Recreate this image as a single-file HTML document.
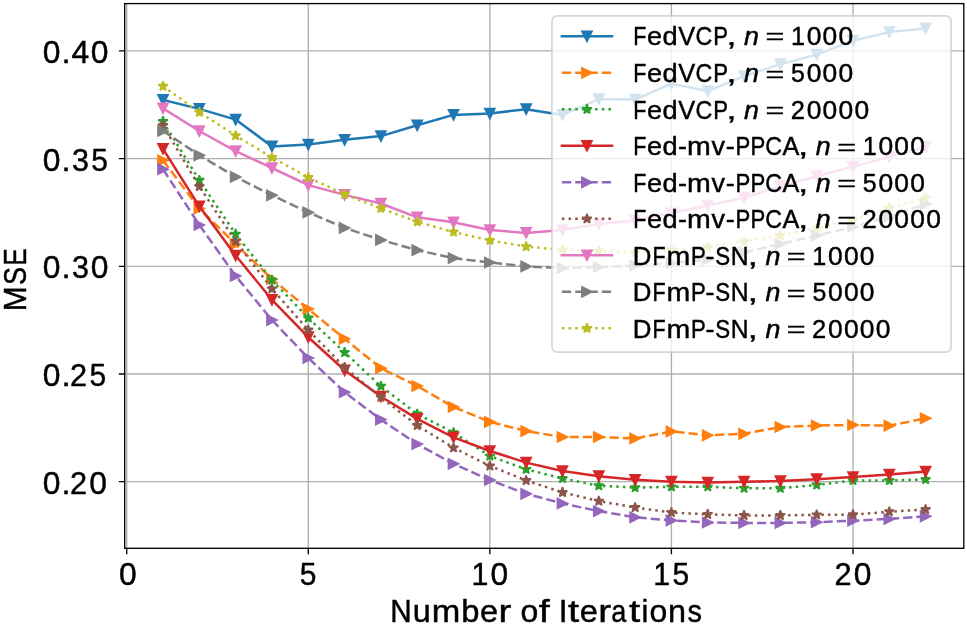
<!DOCTYPE html>
<html><head><meta charset="utf-8"><title>MSE vs Number of Iterations</title>
<style>html,body{margin:0;padding:0;background:#fff;}body{width:967px;height:626px;overflow:hidden;}svg{display:block;will-change:transform;}text{font-family:"Liberation Sans",sans-serif;font-kerning:none;}</style>
</head><body>
<svg width="967" height="626" viewBox="0 0 967 626" font-family="Liberation Sans, sans-serif">
<rect width="967" height="626" fill="#fff"/>
<path d="M126.70,3.6 V548.3 M308.27,3.6 V548.3 M489.85,3.6 V548.3 M671.42,3.6 V548.3 M853.00,3.6 V548.3 M124.7,481.70 H963.8 M124.7,374.01 H963.8 M124.7,266.33 H963.8 M124.7,158.64 H963.8 M124.7,50.95 H963.8" stroke="#b0b0b0" stroke-width="1.338" fill="none" stroke-linecap="square"/>
<g clip-path="url(#ax)">
<path d="M163.01,99.90 L199.33,108.90 L235.64,119.60 L271.96,146.40 L308.27,144.50 L344.59,139.80 L380.90,136.10 L417.22,125.30 L453.53,114.90 L489.85,113.50 L526.16,109.20 L562.48,114.90 L598.79,99.20 L635.11,99.60 L671.42,83.70 L707.74,91.00 L744.06,76.20 L780.37,64.10 L816.68,54.70 L853.00,40.60 L889.32,32.10 L925.63,28.40" fill="none" stroke="#1f77b4" stroke-width="2.510" stroke-linecap="square" stroke-linejoin="round"/>
<path transform="translate(163.01,99.90)" d="M0.000,5.019 L-5.019,-5.019 L5.019,-5.019 Z" fill="#1f77b4" stroke="#1f77b4" stroke-width="1.673" stroke-linejoin="miter"/>
<path transform="translate(199.33,108.90)" d="M0.000,5.019 L-5.019,-5.019 L5.019,-5.019 Z" fill="#1f77b4" stroke="#1f77b4" stroke-width="1.673" stroke-linejoin="miter"/>
<path transform="translate(235.64,119.60)" d="M0.000,5.019 L-5.019,-5.019 L5.019,-5.019 Z" fill="#1f77b4" stroke="#1f77b4" stroke-width="1.673" stroke-linejoin="miter"/>
<path transform="translate(271.96,146.40)" d="M0.000,5.019 L-5.019,-5.019 L5.019,-5.019 Z" fill="#1f77b4" stroke="#1f77b4" stroke-width="1.673" stroke-linejoin="miter"/>
<path transform="translate(308.27,144.50)" d="M0.000,5.019 L-5.019,-5.019 L5.019,-5.019 Z" fill="#1f77b4" stroke="#1f77b4" stroke-width="1.673" stroke-linejoin="miter"/>
<path transform="translate(344.59,139.80)" d="M0.000,5.019 L-5.019,-5.019 L5.019,-5.019 Z" fill="#1f77b4" stroke="#1f77b4" stroke-width="1.673" stroke-linejoin="miter"/>
<path transform="translate(380.90,136.10)" d="M0.000,5.019 L-5.019,-5.019 L5.019,-5.019 Z" fill="#1f77b4" stroke="#1f77b4" stroke-width="1.673" stroke-linejoin="miter"/>
<path transform="translate(417.22,125.30)" d="M0.000,5.019 L-5.019,-5.019 L5.019,-5.019 Z" fill="#1f77b4" stroke="#1f77b4" stroke-width="1.673" stroke-linejoin="miter"/>
<path transform="translate(453.53,114.90)" d="M0.000,5.019 L-5.019,-5.019 L5.019,-5.019 Z" fill="#1f77b4" stroke="#1f77b4" stroke-width="1.673" stroke-linejoin="miter"/>
<path transform="translate(489.85,113.50)" d="M0.000,5.019 L-5.019,-5.019 L5.019,-5.019 Z" fill="#1f77b4" stroke="#1f77b4" stroke-width="1.673" stroke-linejoin="miter"/>
<path transform="translate(526.16,109.20)" d="M0.000,5.019 L-5.019,-5.019 L5.019,-5.019 Z" fill="#1f77b4" stroke="#1f77b4" stroke-width="1.673" stroke-linejoin="miter"/>
<path transform="translate(562.48,114.90)" d="M0.000,5.019 L-5.019,-5.019 L5.019,-5.019 Z" fill="#1f77b4" stroke="#1f77b4" stroke-width="1.673" stroke-linejoin="miter"/>
<path transform="translate(598.79,99.20)" d="M0.000,5.019 L-5.019,-5.019 L5.019,-5.019 Z" fill="#1f77b4" stroke="#1f77b4" stroke-width="1.673" stroke-linejoin="miter"/>
<path transform="translate(635.11,99.60)" d="M0.000,5.019 L-5.019,-5.019 L5.019,-5.019 Z" fill="#1f77b4" stroke="#1f77b4" stroke-width="1.673" stroke-linejoin="miter"/>
<path transform="translate(671.42,83.70)" d="M0.000,5.019 L-5.019,-5.019 L5.019,-5.019 Z" fill="#1f77b4" stroke="#1f77b4" stroke-width="1.673" stroke-linejoin="miter"/>
<path transform="translate(707.74,91.00)" d="M0.000,5.019 L-5.019,-5.019 L5.019,-5.019 Z" fill="#1f77b4" stroke="#1f77b4" stroke-width="1.673" stroke-linejoin="miter"/>
<path transform="translate(744.06,76.20)" d="M0.000,5.019 L-5.019,-5.019 L5.019,-5.019 Z" fill="#1f77b4" stroke="#1f77b4" stroke-width="1.673" stroke-linejoin="miter"/>
<path transform="translate(780.37,64.10)" d="M0.000,5.019 L-5.019,-5.019 L5.019,-5.019 Z" fill="#1f77b4" stroke="#1f77b4" stroke-width="1.673" stroke-linejoin="miter"/>
<path transform="translate(816.68,54.70)" d="M0.000,5.019 L-5.019,-5.019 L5.019,-5.019 Z" fill="#1f77b4" stroke="#1f77b4" stroke-width="1.673" stroke-linejoin="miter"/>
<path transform="translate(853.00,40.60)" d="M0.000,5.019 L-5.019,-5.019 L5.019,-5.019 Z" fill="#1f77b4" stroke="#1f77b4" stroke-width="1.673" stroke-linejoin="miter"/>
<path transform="translate(889.32,32.10)" d="M0.000,5.019 L-5.019,-5.019 L5.019,-5.019 Z" fill="#1f77b4" stroke="#1f77b4" stroke-width="1.673" stroke-linejoin="miter"/>
<path transform="translate(925.63,28.40)" d="M0.000,5.019 L-5.019,-5.019 L5.019,-5.019 Z" fill="#1f77b4" stroke="#1f77b4" stroke-width="1.673" stroke-linejoin="miter"/>
<path d="M163.01,160.30 L199.33,208.40 L235.64,244.20 L271.96,279.00 L308.27,309.00 L344.59,338.80 L380.90,368.20 L417.22,386.00 L453.53,407.00 L489.85,421.90 L526.16,431.10 L562.48,437.00 L598.79,437.00 L635.11,438.40 L671.42,431.40 L707.74,435.30 L744.06,433.80 L780.37,427.00 L816.68,425.50 L853.00,425.00 L889.32,425.70 L925.63,418.30" fill="none" stroke="#ff7f0e" stroke-width="2.510" stroke-linecap="butt" stroke-linejoin="round" stroke-dasharray="9.285 4.015"/>
<path transform="translate(163.01,160.30)" d="M5.019,0.000 L-5.019,5.019 L-5.019,-5.019 Z" fill="#ff7f0e" stroke="#ff7f0e" stroke-width="1.673" stroke-linejoin="miter"/>
<path transform="translate(199.33,208.40)" d="M5.019,0.000 L-5.019,5.019 L-5.019,-5.019 Z" fill="#ff7f0e" stroke="#ff7f0e" stroke-width="1.673" stroke-linejoin="miter"/>
<path transform="translate(235.64,244.20)" d="M5.019,0.000 L-5.019,5.019 L-5.019,-5.019 Z" fill="#ff7f0e" stroke="#ff7f0e" stroke-width="1.673" stroke-linejoin="miter"/>
<path transform="translate(271.96,279.00)" d="M5.019,0.000 L-5.019,5.019 L-5.019,-5.019 Z" fill="#ff7f0e" stroke="#ff7f0e" stroke-width="1.673" stroke-linejoin="miter"/>
<path transform="translate(308.27,309.00)" d="M5.019,0.000 L-5.019,5.019 L-5.019,-5.019 Z" fill="#ff7f0e" stroke="#ff7f0e" stroke-width="1.673" stroke-linejoin="miter"/>
<path transform="translate(344.59,338.80)" d="M5.019,0.000 L-5.019,5.019 L-5.019,-5.019 Z" fill="#ff7f0e" stroke="#ff7f0e" stroke-width="1.673" stroke-linejoin="miter"/>
<path transform="translate(380.90,368.20)" d="M5.019,0.000 L-5.019,5.019 L-5.019,-5.019 Z" fill="#ff7f0e" stroke="#ff7f0e" stroke-width="1.673" stroke-linejoin="miter"/>
<path transform="translate(417.22,386.00)" d="M5.019,0.000 L-5.019,5.019 L-5.019,-5.019 Z" fill="#ff7f0e" stroke="#ff7f0e" stroke-width="1.673" stroke-linejoin="miter"/>
<path transform="translate(453.53,407.00)" d="M5.019,0.000 L-5.019,5.019 L-5.019,-5.019 Z" fill="#ff7f0e" stroke="#ff7f0e" stroke-width="1.673" stroke-linejoin="miter"/>
<path transform="translate(489.85,421.90)" d="M5.019,0.000 L-5.019,5.019 L-5.019,-5.019 Z" fill="#ff7f0e" stroke="#ff7f0e" stroke-width="1.673" stroke-linejoin="miter"/>
<path transform="translate(526.16,431.10)" d="M5.019,0.000 L-5.019,5.019 L-5.019,-5.019 Z" fill="#ff7f0e" stroke="#ff7f0e" stroke-width="1.673" stroke-linejoin="miter"/>
<path transform="translate(562.48,437.00)" d="M5.019,0.000 L-5.019,5.019 L-5.019,-5.019 Z" fill="#ff7f0e" stroke="#ff7f0e" stroke-width="1.673" stroke-linejoin="miter"/>
<path transform="translate(598.79,437.00)" d="M5.019,0.000 L-5.019,5.019 L-5.019,-5.019 Z" fill="#ff7f0e" stroke="#ff7f0e" stroke-width="1.673" stroke-linejoin="miter"/>
<path transform="translate(635.11,438.40)" d="M5.019,0.000 L-5.019,5.019 L-5.019,-5.019 Z" fill="#ff7f0e" stroke="#ff7f0e" stroke-width="1.673" stroke-linejoin="miter"/>
<path transform="translate(671.42,431.40)" d="M5.019,0.000 L-5.019,5.019 L-5.019,-5.019 Z" fill="#ff7f0e" stroke="#ff7f0e" stroke-width="1.673" stroke-linejoin="miter"/>
<path transform="translate(707.74,435.30)" d="M5.019,0.000 L-5.019,5.019 L-5.019,-5.019 Z" fill="#ff7f0e" stroke="#ff7f0e" stroke-width="1.673" stroke-linejoin="miter"/>
<path transform="translate(744.06,433.80)" d="M5.019,0.000 L-5.019,5.019 L-5.019,-5.019 Z" fill="#ff7f0e" stroke="#ff7f0e" stroke-width="1.673" stroke-linejoin="miter"/>
<path transform="translate(780.37,427.00)" d="M5.019,0.000 L-5.019,5.019 L-5.019,-5.019 Z" fill="#ff7f0e" stroke="#ff7f0e" stroke-width="1.673" stroke-linejoin="miter"/>
<path transform="translate(816.68,425.50)" d="M5.019,0.000 L-5.019,5.019 L-5.019,-5.019 Z" fill="#ff7f0e" stroke="#ff7f0e" stroke-width="1.673" stroke-linejoin="miter"/>
<path transform="translate(853.00,425.00)" d="M5.019,0.000 L-5.019,5.019 L-5.019,-5.019 Z" fill="#ff7f0e" stroke="#ff7f0e" stroke-width="1.673" stroke-linejoin="miter"/>
<path transform="translate(889.32,425.70)" d="M5.019,0.000 L-5.019,5.019 L-5.019,-5.019 Z" fill="#ff7f0e" stroke="#ff7f0e" stroke-width="1.673" stroke-linejoin="miter"/>
<path transform="translate(925.63,418.30)" d="M5.019,0.000 L-5.019,5.019 L-5.019,-5.019 Z" fill="#ff7f0e" stroke="#ff7f0e" stroke-width="1.673" stroke-linejoin="miter"/>
<path d="M163.01,121.40 L199.33,180.20 L235.64,234.10 L271.96,280.10 L308.27,318.00 L344.59,352.40 L380.90,386.20 L417.22,414.00 L453.53,432.60 L489.85,456.10 L526.16,469.30 L562.48,478.50 L598.79,485.70 L635.11,487.60 L671.42,486.80 L707.74,486.80 L744.06,488.20 L780.37,488.20 L816.68,485.00 L853.00,480.50 L889.32,480.50 L925.63,479.40" fill="none" stroke="#2ca02c" stroke-width="2.510" stroke-linecap="butt" stroke-linejoin="round" stroke-dasharray="2.510 4.141"/>
<path transform="translate(163.01,121.40)" d="M0.000,-5.019 L-1.127,-1.551 L-4.773,-1.551 L-1.823,0.592 L-2.950,4.060 L-0.000,1.917 L2.950,4.060 L1.823,0.592 L4.773,-1.551 L1.127,-1.551 Z" fill="#2ca02c" stroke="#2ca02c" stroke-width="1.673" stroke-linejoin="bevel"/>
<path transform="translate(199.33,180.20)" d="M0.000,-5.019 L-1.127,-1.551 L-4.773,-1.551 L-1.823,0.592 L-2.950,4.060 L-0.000,1.917 L2.950,4.060 L1.823,0.592 L4.773,-1.551 L1.127,-1.551 Z" fill="#2ca02c" stroke="#2ca02c" stroke-width="1.673" stroke-linejoin="bevel"/>
<path transform="translate(235.64,234.10)" d="M0.000,-5.019 L-1.127,-1.551 L-4.773,-1.551 L-1.823,0.592 L-2.950,4.060 L-0.000,1.917 L2.950,4.060 L1.823,0.592 L4.773,-1.551 L1.127,-1.551 Z" fill="#2ca02c" stroke="#2ca02c" stroke-width="1.673" stroke-linejoin="bevel"/>
<path transform="translate(271.96,280.10)" d="M0.000,-5.019 L-1.127,-1.551 L-4.773,-1.551 L-1.823,0.592 L-2.950,4.060 L-0.000,1.917 L2.950,4.060 L1.823,0.592 L4.773,-1.551 L1.127,-1.551 Z" fill="#2ca02c" stroke="#2ca02c" stroke-width="1.673" stroke-linejoin="bevel"/>
<path transform="translate(308.27,318.00)" d="M0.000,-5.019 L-1.127,-1.551 L-4.773,-1.551 L-1.823,0.592 L-2.950,4.060 L-0.000,1.917 L2.950,4.060 L1.823,0.592 L4.773,-1.551 L1.127,-1.551 Z" fill="#2ca02c" stroke="#2ca02c" stroke-width="1.673" stroke-linejoin="bevel"/>
<path transform="translate(344.59,352.40)" d="M0.000,-5.019 L-1.127,-1.551 L-4.773,-1.551 L-1.823,0.592 L-2.950,4.060 L-0.000,1.917 L2.950,4.060 L1.823,0.592 L4.773,-1.551 L1.127,-1.551 Z" fill="#2ca02c" stroke="#2ca02c" stroke-width="1.673" stroke-linejoin="bevel"/>
<path transform="translate(380.90,386.20)" d="M0.000,-5.019 L-1.127,-1.551 L-4.773,-1.551 L-1.823,0.592 L-2.950,4.060 L-0.000,1.917 L2.950,4.060 L1.823,0.592 L4.773,-1.551 L1.127,-1.551 Z" fill="#2ca02c" stroke="#2ca02c" stroke-width="1.673" stroke-linejoin="bevel"/>
<path transform="translate(417.22,414.00)" d="M0.000,-5.019 L-1.127,-1.551 L-4.773,-1.551 L-1.823,0.592 L-2.950,4.060 L-0.000,1.917 L2.950,4.060 L1.823,0.592 L4.773,-1.551 L1.127,-1.551 Z" fill="#2ca02c" stroke="#2ca02c" stroke-width="1.673" stroke-linejoin="bevel"/>
<path transform="translate(453.53,432.60)" d="M0.000,-5.019 L-1.127,-1.551 L-4.773,-1.551 L-1.823,0.592 L-2.950,4.060 L-0.000,1.917 L2.950,4.060 L1.823,0.592 L4.773,-1.551 L1.127,-1.551 Z" fill="#2ca02c" stroke="#2ca02c" stroke-width="1.673" stroke-linejoin="bevel"/>
<path transform="translate(489.85,456.10)" d="M0.000,-5.019 L-1.127,-1.551 L-4.773,-1.551 L-1.823,0.592 L-2.950,4.060 L-0.000,1.917 L2.950,4.060 L1.823,0.592 L4.773,-1.551 L1.127,-1.551 Z" fill="#2ca02c" stroke="#2ca02c" stroke-width="1.673" stroke-linejoin="bevel"/>
<path transform="translate(526.16,469.30)" d="M0.000,-5.019 L-1.127,-1.551 L-4.773,-1.551 L-1.823,0.592 L-2.950,4.060 L-0.000,1.917 L2.950,4.060 L1.823,0.592 L4.773,-1.551 L1.127,-1.551 Z" fill="#2ca02c" stroke="#2ca02c" stroke-width="1.673" stroke-linejoin="bevel"/>
<path transform="translate(562.48,478.50)" d="M0.000,-5.019 L-1.127,-1.551 L-4.773,-1.551 L-1.823,0.592 L-2.950,4.060 L-0.000,1.917 L2.950,4.060 L1.823,0.592 L4.773,-1.551 L1.127,-1.551 Z" fill="#2ca02c" stroke="#2ca02c" stroke-width="1.673" stroke-linejoin="bevel"/>
<path transform="translate(598.79,485.70)" d="M0.000,-5.019 L-1.127,-1.551 L-4.773,-1.551 L-1.823,0.592 L-2.950,4.060 L-0.000,1.917 L2.950,4.060 L1.823,0.592 L4.773,-1.551 L1.127,-1.551 Z" fill="#2ca02c" stroke="#2ca02c" stroke-width="1.673" stroke-linejoin="bevel"/>
<path transform="translate(635.11,487.60)" d="M0.000,-5.019 L-1.127,-1.551 L-4.773,-1.551 L-1.823,0.592 L-2.950,4.060 L-0.000,1.917 L2.950,4.060 L1.823,0.592 L4.773,-1.551 L1.127,-1.551 Z" fill="#2ca02c" stroke="#2ca02c" stroke-width="1.673" stroke-linejoin="bevel"/>
<path transform="translate(671.42,486.80)" d="M0.000,-5.019 L-1.127,-1.551 L-4.773,-1.551 L-1.823,0.592 L-2.950,4.060 L-0.000,1.917 L2.950,4.060 L1.823,0.592 L4.773,-1.551 L1.127,-1.551 Z" fill="#2ca02c" stroke="#2ca02c" stroke-width="1.673" stroke-linejoin="bevel"/>
<path transform="translate(707.74,486.80)" d="M0.000,-5.019 L-1.127,-1.551 L-4.773,-1.551 L-1.823,0.592 L-2.950,4.060 L-0.000,1.917 L2.950,4.060 L1.823,0.592 L4.773,-1.551 L1.127,-1.551 Z" fill="#2ca02c" stroke="#2ca02c" stroke-width="1.673" stroke-linejoin="bevel"/>
<path transform="translate(744.06,488.20)" d="M0.000,-5.019 L-1.127,-1.551 L-4.773,-1.551 L-1.823,0.592 L-2.950,4.060 L-0.000,1.917 L2.950,4.060 L1.823,0.592 L4.773,-1.551 L1.127,-1.551 Z" fill="#2ca02c" stroke="#2ca02c" stroke-width="1.673" stroke-linejoin="bevel"/>
<path transform="translate(780.37,488.20)" d="M0.000,-5.019 L-1.127,-1.551 L-4.773,-1.551 L-1.823,0.592 L-2.950,4.060 L-0.000,1.917 L2.950,4.060 L1.823,0.592 L4.773,-1.551 L1.127,-1.551 Z" fill="#2ca02c" stroke="#2ca02c" stroke-width="1.673" stroke-linejoin="bevel"/>
<path transform="translate(816.68,485.00)" d="M0.000,-5.019 L-1.127,-1.551 L-4.773,-1.551 L-1.823,0.592 L-2.950,4.060 L-0.000,1.917 L2.950,4.060 L1.823,0.592 L4.773,-1.551 L1.127,-1.551 Z" fill="#2ca02c" stroke="#2ca02c" stroke-width="1.673" stroke-linejoin="bevel"/>
<path transform="translate(853.00,480.50)" d="M0.000,-5.019 L-1.127,-1.551 L-4.773,-1.551 L-1.823,0.592 L-2.950,4.060 L-0.000,1.917 L2.950,4.060 L1.823,0.592 L4.773,-1.551 L1.127,-1.551 Z" fill="#2ca02c" stroke="#2ca02c" stroke-width="1.673" stroke-linejoin="bevel"/>
<path transform="translate(889.32,480.50)" d="M0.000,-5.019 L-1.127,-1.551 L-4.773,-1.551 L-1.823,0.592 L-2.950,4.060 L-0.000,1.917 L2.950,4.060 L1.823,0.592 L4.773,-1.551 L1.127,-1.551 Z" fill="#2ca02c" stroke="#2ca02c" stroke-width="1.673" stroke-linejoin="bevel"/>
<path transform="translate(925.63,479.40)" d="M0.000,-5.019 L-1.127,-1.551 L-4.773,-1.551 L-1.823,0.592 L-2.950,4.060 L-0.000,1.917 L2.950,4.060 L1.823,0.592 L4.773,-1.551 L1.127,-1.551 Z" fill="#2ca02c" stroke="#2ca02c" stroke-width="1.673" stroke-linejoin="bevel"/>
<path d="M163.01,148.80 L199.33,206.30 L235.64,255.50 L271.96,299.80 L308.27,337.20 L344.59,370.30 L380.90,396.50 L417.22,418.90 L453.53,437.30 L489.85,451.00 L526.16,462.60 L562.48,471.00 L598.79,476.20 L635.11,479.80 L671.42,481.70 L707.74,482.50 L744.06,481.70 L780.37,481.10 L816.68,479.20 L853.00,477.00 L889.32,474.60 L925.63,471.70" fill="none" stroke="#d62728" stroke-width="2.510" stroke-linecap="square" stroke-linejoin="round"/>
<path transform="translate(163.01,148.80)" d="M0.000,5.019 L-5.019,-5.019 L5.019,-5.019 Z" fill="#d62728" stroke="#d62728" stroke-width="1.673" stroke-linejoin="miter"/>
<path transform="translate(199.33,206.30)" d="M0.000,5.019 L-5.019,-5.019 L5.019,-5.019 Z" fill="#d62728" stroke="#d62728" stroke-width="1.673" stroke-linejoin="miter"/>
<path transform="translate(235.64,255.50)" d="M0.000,5.019 L-5.019,-5.019 L5.019,-5.019 Z" fill="#d62728" stroke="#d62728" stroke-width="1.673" stroke-linejoin="miter"/>
<path transform="translate(271.96,299.80)" d="M0.000,5.019 L-5.019,-5.019 L5.019,-5.019 Z" fill="#d62728" stroke="#d62728" stroke-width="1.673" stroke-linejoin="miter"/>
<path transform="translate(308.27,337.20)" d="M0.000,5.019 L-5.019,-5.019 L5.019,-5.019 Z" fill="#d62728" stroke="#d62728" stroke-width="1.673" stroke-linejoin="miter"/>
<path transform="translate(344.59,370.30)" d="M0.000,5.019 L-5.019,-5.019 L5.019,-5.019 Z" fill="#d62728" stroke="#d62728" stroke-width="1.673" stroke-linejoin="miter"/>
<path transform="translate(380.90,396.50)" d="M0.000,5.019 L-5.019,-5.019 L5.019,-5.019 Z" fill="#d62728" stroke="#d62728" stroke-width="1.673" stroke-linejoin="miter"/>
<path transform="translate(417.22,418.90)" d="M0.000,5.019 L-5.019,-5.019 L5.019,-5.019 Z" fill="#d62728" stroke="#d62728" stroke-width="1.673" stroke-linejoin="miter"/>
<path transform="translate(453.53,437.30)" d="M0.000,5.019 L-5.019,-5.019 L5.019,-5.019 Z" fill="#d62728" stroke="#d62728" stroke-width="1.673" stroke-linejoin="miter"/>
<path transform="translate(489.85,451.00)" d="M0.000,5.019 L-5.019,-5.019 L5.019,-5.019 Z" fill="#d62728" stroke="#d62728" stroke-width="1.673" stroke-linejoin="miter"/>
<path transform="translate(526.16,462.60)" d="M0.000,5.019 L-5.019,-5.019 L5.019,-5.019 Z" fill="#d62728" stroke="#d62728" stroke-width="1.673" stroke-linejoin="miter"/>
<path transform="translate(562.48,471.00)" d="M0.000,5.019 L-5.019,-5.019 L5.019,-5.019 Z" fill="#d62728" stroke="#d62728" stroke-width="1.673" stroke-linejoin="miter"/>
<path transform="translate(598.79,476.20)" d="M0.000,5.019 L-5.019,-5.019 L5.019,-5.019 Z" fill="#d62728" stroke="#d62728" stroke-width="1.673" stroke-linejoin="miter"/>
<path transform="translate(635.11,479.80)" d="M0.000,5.019 L-5.019,-5.019 L5.019,-5.019 Z" fill="#d62728" stroke="#d62728" stroke-width="1.673" stroke-linejoin="miter"/>
<path transform="translate(671.42,481.70)" d="M0.000,5.019 L-5.019,-5.019 L5.019,-5.019 Z" fill="#d62728" stroke="#d62728" stroke-width="1.673" stroke-linejoin="miter"/>
<path transform="translate(707.74,482.50)" d="M0.000,5.019 L-5.019,-5.019 L5.019,-5.019 Z" fill="#d62728" stroke="#d62728" stroke-width="1.673" stroke-linejoin="miter"/>
<path transform="translate(744.06,481.70)" d="M0.000,5.019 L-5.019,-5.019 L5.019,-5.019 Z" fill="#d62728" stroke="#d62728" stroke-width="1.673" stroke-linejoin="miter"/>
<path transform="translate(780.37,481.10)" d="M0.000,5.019 L-5.019,-5.019 L5.019,-5.019 Z" fill="#d62728" stroke="#d62728" stroke-width="1.673" stroke-linejoin="miter"/>
<path transform="translate(816.68,479.20)" d="M0.000,5.019 L-5.019,-5.019 L5.019,-5.019 Z" fill="#d62728" stroke="#d62728" stroke-width="1.673" stroke-linejoin="miter"/>
<path transform="translate(853.00,477.00)" d="M0.000,5.019 L-5.019,-5.019 L5.019,-5.019 Z" fill="#d62728" stroke="#d62728" stroke-width="1.673" stroke-linejoin="miter"/>
<path transform="translate(889.32,474.60)" d="M0.000,5.019 L-5.019,-5.019 L5.019,-5.019 Z" fill="#d62728" stroke="#d62728" stroke-width="1.673" stroke-linejoin="miter"/>
<path transform="translate(925.63,471.70)" d="M0.000,5.019 L-5.019,-5.019 L5.019,-5.019 Z" fill="#d62728" stroke="#d62728" stroke-width="1.673" stroke-linejoin="miter"/>
<path d="M163.01,169.20 L199.33,225.00 L235.64,275.90 L271.96,320.10 L308.27,358.00 L344.59,392.20 L380.90,419.60 L417.22,444.10 L453.53,463.80 L489.85,480.00 L526.16,493.80 L562.48,503.40 L598.79,511.10 L635.11,517.30 L671.42,520.40 L707.74,522.50 L744.06,522.90 L780.37,522.90 L816.68,522.20 L853.00,520.70 L889.32,518.90 L925.63,516.30" fill="none" stroke="#9467bd" stroke-width="2.510" stroke-linecap="butt" stroke-linejoin="round" stroke-dasharray="9.285 4.015"/>
<path transform="translate(163.01,169.20)" d="M5.019,0.000 L-5.019,5.019 L-5.019,-5.019 Z" fill="#9467bd" stroke="#9467bd" stroke-width="1.673" stroke-linejoin="miter"/>
<path transform="translate(199.33,225.00)" d="M5.019,0.000 L-5.019,5.019 L-5.019,-5.019 Z" fill="#9467bd" stroke="#9467bd" stroke-width="1.673" stroke-linejoin="miter"/>
<path transform="translate(235.64,275.90)" d="M5.019,0.000 L-5.019,5.019 L-5.019,-5.019 Z" fill="#9467bd" stroke="#9467bd" stroke-width="1.673" stroke-linejoin="miter"/>
<path transform="translate(271.96,320.10)" d="M5.019,0.000 L-5.019,5.019 L-5.019,-5.019 Z" fill="#9467bd" stroke="#9467bd" stroke-width="1.673" stroke-linejoin="miter"/>
<path transform="translate(308.27,358.00)" d="M5.019,0.000 L-5.019,5.019 L-5.019,-5.019 Z" fill="#9467bd" stroke="#9467bd" stroke-width="1.673" stroke-linejoin="miter"/>
<path transform="translate(344.59,392.20)" d="M5.019,0.000 L-5.019,5.019 L-5.019,-5.019 Z" fill="#9467bd" stroke="#9467bd" stroke-width="1.673" stroke-linejoin="miter"/>
<path transform="translate(380.90,419.60)" d="M5.019,0.000 L-5.019,5.019 L-5.019,-5.019 Z" fill="#9467bd" stroke="#9467bd" stroke-width="1.673" stroke-linejoin="miter"/>
<path transform="translate(417.22,444.10)" d="M5.019,0.000 L-5.019,5.019 L-5.019,-5.019 Z" fill="#9467bd" stroke="#9467bd" stroke-width="1.673" stroke-linejoin="miter"/>
<path transform="translate(453.53,463.80)" d="M5.019,0.000 L-5.019,5.019 L-5.019,-5.019 Z" fill="#9467bd" stroke="#9467bd" stroke-width="1.673" stroke-linejoin="miter"/>
<path transform="translate(489.85,480.00)" d="M5.019,0.000 L-5.019,5.019 L-5.019,-5.019 Z" fill="#9467bd" stroke="#9467bd" stroke-width="1.673" stroke-linejoin="miter"/>
<path transform="translate(526.16,493.80)" d="M5.019,0.000 L-5.019,5.019 L-5.019,-5.019 Z" fill="#9467bd" stroke="#9467bd" stroke-width="1.673" stroke-linejoin="miter"/>
<path transform="translate(562.48,503.40)" d="M5.019,0.000 L-5.019,5.019 L-5.019,-5.019 Z" fill="#9467bd" stroke="#9467bd" stroke-width="1.673" stroke-linejoin="miter"/>
<path transform="translate(598.79,511.10)" d="M5.019,0.000 L-5.019,5.019 L-5.019,-5.019 Z" fill="#9467bd" stroke="#9467bd" stroke-width="1.673" stroke-linejoin="miter"/>
<path transform="translate(635.11,517.30)" d="M5.019,0.000 L-5.019,5.019 L-5.019,-5.019 Z" fill="#9467bd" stroke="#9467bd" stroke-width="1.673" stroke-linejoin="miter"/>
<path transform="translate(671.42,520.40)" d="M5.019,0.000 L-5.019,5.019 L-5.019,-5.019 Z" fill="#9467bd" stroke="#9467bd" stroke-width="1.673" stroke-linejoin="miter"/>
<path transform="translate(707.74,522.50)" d="M5.019,0.000 L-5.019,5.019 L-5.019,-5.019 Z" fill="#9467bd" stroke="#9467bd" stroke-width="1.673" stroke-linejoin="miter"/>
<path transform="translate(744.06,522.90)" d="M5.019,0.000 L-5.019,5.019 L-5.019,-5.019 Z" fill="#9467bd" stroke="#9467bd" stroke-width="1.673" stroke-linejoin="miter"/>
<path transform="translate(780.37,522.90)" d="M5.019,0.000 L-5.019,5.019 L-5.019,-5.019 Z" fill="#9467bd" stroke="#9467bd" stroke-width="1.673" stroke-linejoin="miter"/>
<path transform="translate(816.68,522.20)" d="M5.019,0.000 L-5.019,5.019 L-5.019,-5.019 Z" fill="#9467bd" stroke="#9467bd" stroke-width="1.673" stroke-linejoin="miter"/>
<path transform="translate(853.00,520.70)" d="M5.019,0.000 L-5.019,5.019 L-5.019,-5.019 Z" fill="#9467bd" stroke="#9467bd" stroke-width="1.673" stroke-linejoin="miter"/>
<path transform="translate(889.32,518.90)" d="M5.019,0.000 L-5.019,5.019 L-5.019,-5.019 Z" fill="#9467bd" stroke="#9467bd" stroke-width="1.673" stroke-linejoin="miter"/>
<path transform="translate(925.63,516.30)" d="M5.019,0.000 L-5.019,5.019 L-5.019,-5.019 Z" fill="#9467bd" stroke="#9467bd" stroke-width="1.673" stroke-linejoin="miter"/>
<path d="M163.01,125.40 L199.33,186.50 L235.64,241.30 L271.96,288.80 L308.27,330.00 L344.59,367.30 L380.90,397.30 L417.22,425.50 L453.53,447.80 L489.85,465.90 L526.16,480.50 L562.48,492.40 L598.79,501.10 L635.11,507.50 L671.42,512.50 L707.74,514.40 L744.06,515.40 L780.37,515.40 L816.68,514.80 L853.00,514.60 L889.32,511.70 L925.63,509.50" fill="none" stroke="#8c564b" stroke-width="2.510" stroke-linecap="butt" stroke-linejoin="round" stroke-dasharray="2.510 4.141"/>
<path transform="translate(163.01,125.40)" d="M0.000,-5.019 L-1.127,-1.551 L-4.773,-1.551 L-1.823,0.592 L-2.950,4.060 L-0.000,1.917 L2.950,4.060 L1.823,0.592 L4.773,-1.551 L1.127,-1.551 Z" fill="#8c564b" stroke="#8c564b" stroke-width="1.673" stroke-linejoin="bevel"/>
<path transform="translate(199.33,186.50)" d="M0.000,-5.019 L-1.127,-1.551 L-4.773,-1.551 L-1.823,0.592 L-2.950,4.060 L-0.000,1.917 L2.950,4.060 L1.823,0.592 L4.773,-1.551 L1.127,-1.551 Z" fill="#8c564b" stroke="#8c564b" stroke-width="1.673" stroke-linejoin="bevel"/>
<path transform="translate(235.64,241.30)" d="M0.000,-5.019 L-1.127,-1.551 L-4.773,-1.551 L-1.823,0.592 L-2.950,4.060 L-0.000,1.917 L2.950,4.060 L1.823,0.592 L4.773,-1.551 L1.127,-1.551 Z" fill="#8c564b" stroke="#8c564b" stroke-width="1.673" stroke-linejoin="bevel"/>
<path transform="translate(271.96,288.80)" d="M0.000,-5.019 L-1.127,-1.551 L-4.773,-1.551 L-1.823,0.592 L-2.950,4.060 L-0.000,1.917 L2.950,4.060 L1.823,0.592 L4.773,-1.551 L1.127,-1.551 Z" fill="#8c564b" stroke="#8c564b" stroke-width="1.673" stroke-linejoin="bevel"/>
<path transform="translate(308.27,330.00)" d="M0.000,-5.019 L-1.127,-1.551 L-4.773,-1.551 L-1.823,0.592 L-2.950,4.060 L-0.000,1.917 L2.950,4.060 L1.823,0.592 L4.773,-1.551 L1.127,-1.551 Z" fill="#8c564b" stroke="#8c564b" stroke-width="1.673" stroke-linejoin="bevel"/>
<path transform="translate(344.59,367.30)" d="M0.000,-5.019 L-1.127,-1.551 L-4.773,-1.551 L-1.823,0.592 L-2.950,4.060 L-0.000,1.917 L2.950,4.060 L1.823,0.592 L4.773,-1.551 L1.127,-1.551 Z" fill="#8c564b" stroke="#8c564b" stroke-width="1.673" stroke-linejoin="bevel"/>
<path transform="translate(380.90,397.30)" d="M0.000,-5.019 L-1.127,-1.551 L-4.773,-1.551 L-1.823,0.592 L-2.950,4.060 L-0.000,1.917 L2.950,4.060 L1.823,0.592 L4.773,-1.551 L1.127,-1.551 Z" fill="#8c564b" stroke="#8c564b" stroke-width="1.673" stroke-linejoin="bevel"/>
<path transform="translate(417.22,425.50)" d="M0.000,-5.019 L-1.127,-1.551 L-4.773,-1.551 L-1.823,0.592 L-2.950,4.060 L-0.000,1.917 L2.950,4.060 L1.823,0.592 L4.773,-1.551 L1.127,-1.551 Z" fill="#8c564b" stroke="#8c564b" stroke-width="1.673" stroke-linejoin="bevel"/>
<path transform="translate(453.53,447.80)" d="M0.000,-5.019 L-1.127,-1.551 L-4.773,-1.551 L-1.823,0.592 L-2.950,4.060 L-0.000,1.917 L2.950,4.060 L1.823,0.592 L4.773,-1.551 L1.127,-1.551 Z" fill="#8c564b" stroke="#8c564b" stroke-width="1.673" stroke-linejoin="bevel"/>
<path transform="translate(489.85,465.90)" d="M0.000,-5.019 L-1.127,-1.551 L-4.773,-1.551 L-1.823,0.592 L-2.950,4.060 L-0.000,1.917 L2.950,4.060 L1.823,0.592 L4.773,-1.551 L1.127,-1.551 Z" fill="#8c564b" stroke="#8c564b" stroke-width="1.673" stroke-linejoin="bevel"/>
<path transform="translate(526.16,480.50)" d="M0.000,-5.019 L-1.127,-1.551 L-4.773,-1.551 L-1.823,0.592 L-2.950,4.060 L-0.000,1.917 L2.950,4.060 L1.823,0.592 L4.773,-1.551 L1.127,-1.551 Z" fill="#8c564b" stroke="#8c564b" stroke-width="1.673" stroke-linejoin="bevel"/>
<path transform="translate(562.48,492.40)" d="M0.000,-5.019 L-1.127,-1.551 L-4.773,-1.551 L-1.823,0.592 L-2.950,4.060 L-0.000,1.917 L2.950,4.060 L1.823,0.592 L4.773,-1.551 L1.127,-1.551 Z" fill="#8c564b" stroke="#8c564b" stroke-width="1.673" stroke-linejoin="bevel"/>
<path transform="translate(598.79,501.10)" d="M0.000,-5.019 L-1.127,-1.551 L-4.773,-1.551 L-1.823,0.592 L-2.950,4.060 L-0.000,1.917 L2.950,4.060 L1.823,0.592 L4.773,-1.551 L1.127,-1.551 Z" fill="#8c564b" stroke="#8c564b" stroke-width="1.673" stroke-linejoin="bevel"/>
<path transform="translate(635.11,507.50)" d="M0.000,-5.019 L-1.127,-1.551 L-4.773,-1.551 L-1.823,0.592 L-2.950,4.060 L-0.000,1.917 L2.950,4.060 L1.823,0.592 L4.773,-1.551 L1.127,-1.551 Z" fill="#8c564b" stroke="#8c564b" stroke-width="1.673" stroke-linejoin="bevel"/>
<path transform="translate(671.42,512.50)" d="M0.000,-5.019 L-1.127,-1.551 L-4.773,-1.551 L-1.823,0.592 L-2.950,4.060 L-0.000,1.917 L2.950,4.060 L1.823,0.592 L4.773,-1.551 L1.127,-1.551 Z" fill="#8c564b" stroke="#8c564b" stroke-width="1.673" stroke-linejoin="bevel"/>
<path transform="translate(707.74,514.40)" d="M0.000,-5.019 L-1.127,-1.551 L-4.773,-1.551 L-1.823,0.592 L-2.950,4.060 L-0.000,1.917 L2.950,4.060 L1.823,0.592 L4.773,-1.551 L1.127,-1.551 Z" fill="#8c564b" stroke="#8c564b" stroke-width="1.673" stroke-linejoin="bevel"/>
<path transform="translate(744.06,515.40)" d="M0.000,-5.019 L-1.127,-1.551 L-4.773,-1.551 L-1.823,0.592 L-2.950,4.060 L-0.000,1.917 L2.950,4.060 L1.823,0.592 L4.773,-1.551 L1.127,-1.551 Z" fill="#8c564b" stroke="#8c564b" stroke-width="1.673" stroke-linejoin="bevel"/>
<path transform="translate(780.37,515.40)" d="M0.000,-5.019 L-1.127,-1.551 L-4.773,-1.551 L-1.823,0.592 L-2.950,4.060 L-0.000,1.917 L2.950,4.060 L1.823,0.592 L4.773,-1.551 L1.127,-1.551 Z" fill="#8c564b" stroke="#8c564b" stroke-width="1.673" stroke-linejoin="bevel"/>
<path transform="translate(816.68,514.80)" d="M0.000,-5.019 L-1.127,-1.551 L-4.773,-1.551 L-1.823,0.592 L-2.950,4.060 L-0.000,1.917 L2.950,4.060 L1.823,0.592 L4.773,-1.551 L1.127,-1.551 Z" fill="#8c564b" stroke="#8c564b" stroke-width="1.673" stroke-linejoin="bevel"/>
<path transform="translate(853.00,514.60)" d="M0.000,-5.019 L-1.127,-1.551 L-4.773,-1.551 L-1.823,0.592 L-2.950,4.060 L-0.000,1.917 L2.950,4.060 L1.823,0.592 L4.773,-1.551 L1.127,-1.551 Z" fill="#8c564b" stroke="#8c564b" stroke-width="1.673" stroke-linejoin="bevel"/>
<path transform="translate(889.32,511.70)" d="M0.000,-5.019 L-1.127,-1.551 L-4.773,-1.551 L-1.823,0.592 L-2.950,4.060 L-0.000,1.917 L2.950,4.060 L1.823,0.592 L4.773,-1.551 L1.127,-1.551 Z" fill="#8c564b" stroke="#8c564b" stroke-width="1.673" stroke-linejoin="bevel"/>
<path transform="translate(925.63,509.50)" d="M0.000,-5.019 L-1.127,-1.551 L-4.773,-1.551 L-1.823,0.592 L-2.950,4.060 L-0.000,1.917 L2.950,4.060 L1.823,0.592 L4.773,-1.551 L1.127,-1.551 Z" fill="#8c564b" stroke="#8c564b" stroke-width="1.673" stroke-linejoin="bevel"/>
<path d="M163.01,108.30 L199.33,131.00 L235.64,151.20 L271.96,168.00 L308.27,185.10 L344.59,194.90 L380.90,203.50 L417.22,217.30 L453.53,222.30 L489.85,230.00 L526.16,232.90 L562.48,230.00 L598.79,224.10 L635.11,220.50 L671.42,213.30 L707.74,205.50 L744.06,197.70 L780.37,186.20 L816.68,176.20 L853.00,166.60 L889.32,157.10 L925.63,146.90" fill="none" stroke="#e377c2" stroke-width="2.510" stroke-linecap="square" stroke-linejoin="round"/>
<path transform="translate(163.01,108.30)" d="M0.000,5.019 L-5.019,-5.019 L5.019,-5.019 Z" fill="#e377c2" stroke="#e377c2" stroke-width="1.673" stroke-linejoin="miter"/>
<path transform="translate(199.33,131.00)" d="M0.000,5.019 L-5.019,-5.019 L5.019,-5.019 Z" fill="#e377c2" stroke="#e377c2" stroke-width="1.673" stroke-linejoin="miter"/>
<path transform="translate(235.64,151.20)" d="M0.000,5.019 L-5.019,-5.019 L5.019,-5.019 Z" fill="#e377c2" stroke="#e377c2" stroke-width="1.673" stroke-linejoin="miter"/>
<path transform="translate(271.96,168.00)" d="M0.000,5.019 L-5.019,-5.019 L5.019,-5.019 Z" fill="#e377c2" stroke="#e377c2" stroke-width="1.673" stroke-linejoin="miter"/>
<path transform="translate(308.27,185.10)" d="M0.000,5.019 L-5.019,-5.019 L5.019,-5.019 Z" fill="#e377c2" stroke="#e377c2" stroke-width="1.673" stroke-linejoin="miter"/>
<path transform="translate(344.59,194.90)" d="M0.000,5.019 L-5.019,-5.019 L5.019,-5.019 Z" fill="#e377c2" stroke="#e377c2" stroke-width="1.673" stroke-linejoin="miter"/>
<path transform="translate(380.90,203.50)" d="M0.000,5.019 L-5.019,-5.019 L5.019,-5.019 Z" fill="#e377c2" stroke="#e377c2" stroke-width="1.673" stroke-linejoin="miter"/>
<path transform="translate(417.22,217.30)" d="M0.000,5.019 L-5.019,-5.019 L5.019,-5.019 Z" fill="#e377c2" stroke="#e377c2" stroke-width="1.673" stroke-linejoin="miter"/>
<path transform="translate(453.53,222.30)" d="M0.000,5.019 L-5.019,-5.019 L5.019,-5.019 Z" fill="#e377c2" stroke="#e377c2" stroke-width="1.673" stroke-linejoin="miter"/>
<path transform="translate(489.85,230.00)" d="M0.000,5.019 L-5.019,-5.019 L5.019,-5.019 Z" fill="#e377c2" stroke="#e377c2" stroke-width="1.673" stroke-linejoin="miter"/>
<path transform="translate(526.16,232.90)" d="M0.000,5.019 L-5.019,-5.019 L5.019,-5.019 Z" fill="#e377c2" stroke="#e377c2" stroke-width="1.673" stroke-linejoin="miter"/>
<path transform="translate(562.48,230.00)" d="M0.000,5.019 L-5.019,-5.019 L5.019,-5.019 Z" fill="#e377c2" stroke="#e377c2" stroke-width="1.673" stroke-linejoin="miter"/>
<path transform="translate(598.79,224.10)" d="M0.000,5.019 L-5.019,-5.019 L5.019,-5.019 Z" fill="#e377c2" stroke="#e377c2" stroke-width="1.673" stroke-linejoin="miter"/>
<path transform="translate(635.11,220.50)" d="M0.000,5.019 L-5.019,-5.019 L5.019,-5.019 Z" fill="#e377c2" stroke="#e377c2" stroke-width="1.673" stroke-linejoin="miter"/>
<path transform="translate(671.42,213.30)" d="M0.000,5.019 L-5.019,-5.019 L5.019,-5.019 Z" fill="#e377c2" stroke="#e377c2" stroke-width="1.673" stroke-linejoin="miter"/>
<path transform="translate(707.74,205.50)" d="M0.000,5.019 L-5.019,-5.019 L5.019,-5.019 Z" fill="#e377c2" stroke="#e377c2" stroke-width="1.673" stroke-linejoin="miter"/>
<path transform="translate(744.06,197.70)" d="M0.000,5.019 L-5.019,-5.019 L5.019,-5.019 Z" fill="#e377c2" stroke="#e377c2" stroke-width="1.673" stroke-linejoin="miter"/>
<path transform="translate(780.37,186.20)" d="M0.000,5.019 L-5.019,-5.019 L5.019,-5.019 Z" fill="#e377c2" stroke="#e377c2" stroke-width="1.673" stroke-linejoin="miter"/>
<path transform="translate(816.68,176.20)" d="M0.000,5.019 L-5.019,-5.019 L5.019,-5.019 Z" fill="#e377c2" stroke="#e377c2" stroke-width="1.673" stroke-linejoin="miter"/>
<path transform="translate(853.00,166.60)" d="M0.000,5.019 L-5.019,-5.019 L5.019,-5.019 Z" fill="#e377c2" stroke="#e377c2" stroke-width="1.673" stroke-linejoin="miter"/>
<path transform="translate(889.32,157.10)" d="M0.000,5.019 L-5.019,-5.019 L5.019,-5.019 Z" fill="#e377c2" stroke="#e377c2" stroke-width="1.673" stroke-linejoin="miter"/>
<path transform="translate(925.63,146.90)" d="M0.000,5.019 L-5.019,-5.019 L5.019,-5.019 Z" fill="#e377c2" stroke="#e377c2" stroke-width="1.673" stroke-linejoin="miter"/>
<path d="M163.01,130.90 L199.33,155.30 L235.64,176.90 L271.96,195.30 L308.27,212.40 L344.59,227.90 L380.90,239.90 L417.22,250.20 L453.53,258.10 L489.85,262.50 L526.16,266.40 L562.48,268.10 L598.79,267.00 L635.11,265.70 L671.42,263.00 L707.74,259.50 L744.06,252.20 L780.37,244.00 L816.68,235.50 L853.00,227.00 L889.32,216.50 L925.63,204.00" fill="none" stroke="#7f7f7f" stroke-width="2.510" stroke-linecap="butt" stroke-linejoin="round" stroke-dasharray="9.285 4.015"/>
<path transform="translate(163.01,130.90)" d="M5.019,0.000 L-5.019,5.019 L-5.019,-5.019 Z" fill="#7f7f7f" stroke="#7f7f7f" stroke-width="1.673" stroke-linejoin="miter"/>
<path transform="translate(199.33,155.30)" d="M5.019,0.000 L-5.019,5.019 L-5.019,-5.019 Z" fill="#7f7f7f" stroke="#7f7f7f" stroke-width="1.673" stroke-linejoin="miter"/>
<path transform="translate(235.64,176.90)" d="M5.019,0.000 L-5.019,5.019 L-5.019,-5.019 Z" fill="#7f7f7f" stroke="#7f7f7f" stroke-width="1.673" stroke-linejoin="miter"/>
<path transform="translate(271.96,195.30)" d="M5.019,0.000 L-5.019,5.019 L-5.019,-5.019 Z" fill="#7f7f7f" stroke="#7f7f7f" stroke-width="1.673" stroke-linejoin="miter"/>
<path transform="translate(308.27,212.40)" d="M5.019,0.000 L-5.019,5.019 L-5.019,-5.019 Z" fill="#7f7f7f" stroke="#7f7f7f" stroke-width="1.673" stroke-linejoin="miter"/>
<path transform="translate(344.59,227.90)" d="M5.019,0.000 L-5.019,5.019 L-5.019,-5.019 Z" fill="#7f7f7f" stroke="#7f7f7f" stroke-width="1.673" stroke-linejoin="miter"/>
<path transform="translate(380.90,239.90)" d="M5.019,0.000 L-5.019,5.019 L-5.019,-5.019 Z" fill="#7f7f7f" stroke="#7f7f7f" stroke-width="1.673" stroke-linejoin="miter"/>
<path transform="translate(417.22,250.20)" d="M5.019,0.000 L-5.019,5.019 L-5.019,-5.019 Z" fill="#7f7f7f" stroke="#7f7f7f" stroke-width="1.673" stroke-linejoin="miter"/>
<path transform="translate(453.53,258.10)" d="M5.019,0.000 L-5.019,5.019 L-5.019,-5.019 Z" fill="#7f7f7f" stroke="#7f7f7f" stroke-width="1.673" stroke-linejoin="miter"/>
<path transform="translate(489.85,262.50)" d="M5.019,0.000 L-5.019,5.019 L-5.019,-5.019 Z" fill="#7f7f7f" stroke="#7f7f7f" stroke-width="1.673" stroke-linejoin="miter"/>
<path transform="translate(526.16,266.40)" d="M5.019,0.000 L-5.019,5.019 L-5.019,-5.019 Z" fill="#7f7f7f" stroke="#7f7f7f" stroke-width="1.673" stroke-linejoin="miter"/>
<path transform="translate(562.48,268.10)" d="M5.019,0.000 L-5.019,5.019 L-5.019,-5.019 Z" fill="#7f7f7f" stroke="#7f7f7f" stroke-width="1.673" stroke-linejoin="miter"/>
<path transform="translate(598.79,267.00)" d="M5.019,0.000 L-5.019,5.019 L-5.019,-5.019 Z" fill="#7f7f7f" stroke="#7f7f7f" stroke-width="1.673" stroke-linejoin="miter"/>
<path transform="translate(635.11,265.70)" d="M5.019,0.000 L-5.019,5.019 L-5.019,-5.019 Z" fill="#7f7f7f" stroke="#7f7f7f" stroke-width="1.673" stroke-linejoin="miter"/>
<path transform="translate(671.42,263.00)" d="M5.019,0.000 L-5.019,5.019 L-5.019,-5.019 Z" fill="#7f7f7f" stroke="#7f7f7f" stroke-width="1.673" stroke-linejoin="miter"/>
<path transform="translate(707.74,259.50)" d="M5.019,0.000 L-5.019,5.019 L-5.019,-5.019 Z" fill="#7f7f7f" stroke="#7f7f7f" stroke-width="1.673" stroke-linejoin="miter"/>
<path transform="translate(744.06,252.20)" d="M5.019,0.000 L-5.019,5.019 L-5.019,-5.019 Z" fill="#7f7f7f" stroke="#7f7f7f" stroke-width="1.673" stroke-linejoin="miter"/>
<path transform="translate(780.37,244.00)" d="M5.019,0.000 L-5.019,5.019 L-5.019,-5.019 Z" fill="#7f7f7f" stroke="#7f7f7f" stroke-width="1.673" stroke-linejoin="miter"/>
<path transform="translate(816.68,235.50)" d="M5.019,0.000 L-5.019,5.019 L-5.019,-5.019 Z" fill="#7f7f7f" stroke="#7f7f7f" stroke-width="1.673" stroke-linejoin="miter"/>
<path transform="translate(853.00,227.00)" d="M5.019,0.000 L-5.019,5.019 L-5.019,-5.019 Z" fill="#7f7f7f" stroke="#7f7f7f" stroke-width="1.673" stroke-linejoin="miter"/>
<path transform="translate(889.32,216.50)" d="M5.019,0.000 L-5.019,5.019 L-5.019,-5.019 Z" fill="#7f7f7f" stroke="#7f7f7f" stroke-width="1.673" stroke-linejoin="miter"/>
<path transform="translate(925.63,204.00)" d="M5.019,0.000 L-5.019,5.019 L-5.019,-5.019 Z" fill="#7f7f7f" stroke="#7f7f7f" stroke-width="1.673" stroke-linejoin="miter"/>
<path d="M163.01,86.20 L199.33,112.20 L235.64,135.60 L271.96,157.50 L308.27,177.40 L344.59,194.40 L380.90,208.30 L417.22,221.80 L453.53,232.10 L489.85,240.30 L526.16,246.60 L562.48,249.90 L598.79,250.80 L635.11,252.40 L671.42,250.00 L707.74,247.00 L744.06,241.40 L780.37,235.30 L816.68,228.40 L853.00,220.00 L889.32,208.00 L925.63,198.00" fill="none" stroke="#bcbd22" stroke-width="2.510" stroke-linecap="butt" stroke-linejoin="round" stroke-dasharray="2.510 4.141"/>
<path transform="translate(163.01,86.20)" d="M0.000,-5.019 L-1.127,-1.551 L-4.773,-1.551 L-1.823,0.592 L-2.950,4.060 L-0.000,1.917 L2.950,4.060 L1.823,0.592 L4.773,-1.551 L1.127,-1.551 Z" fill="#bcbd22" stroke="#bcbd22" stroke-width="1.673" stroke-linejoin="bevel"/>
<path transform="translate(199.33,112.20)" d="M0.000,-5.019 L-1.127,-1.551 L-4.773,-1.551 L-1.823,0.592 L-2.950,4.060 L-0.000,1.917 L2.950,4.060 L1.823,0.592 L4.773,-1.551 L1.127,-1.551 Z" fill="#bcbd22" stroke="#bcbd22" stroke-width="1.673" stroke-linejoin="bevel"/>
<path transform="translate(235.64,135.60)" d="M0.000,-5.019 L-1.127,-1.551 L-4.773,-1.551 L-1.823,0.592 L-2.950,4.060 L-0.000,1.917 L2.950,4.060 L1.823,0.592 L4.773,-1.551 L1.127,-1.551 Z" fill="#bcbd22" stroke="#bcbd22" stroke-width="1.673" stroke-linejoin="bevel"/>
<path transform="translate(271.96,157.50)" d="M0.000,-5.019 L-1.127,-1.551 L-4.773,-1.551 L-1.823,0.592 L-2.950,4.060 L-0.000,1.917 L2.950,4.060 L1.823,0.592 L4.773,-1.551 L1.127,-1.551 Z" fill="#bcbd22" stroke="#bcbd22" stroke-width="1.673" stroke-linejoin="bevel"/>
<path transform="translate(308.27,177.40)" d="M0.000,-5.019 L-1.127,-1.551 L-4.773,-1.551 L-1.823,0.592 L-2.950,4.060 L-0.000,1.917 L2.950,4.060 L1.823,0.592 L4.773,-1.551 L1.127,-1.551 Z" fill="#bcbd22" stroke="#bcbd22" stroke-width="1.673" stroke-linejoin="bevel"/>
<path transform="translate(344.59,194.40)" d="M0.000,-5.019 L-1.127,-1.551 L-4.773,-1.551 L-1.823,0.592 L-2.950,4.060 L-0.000,1.917 L2.950,4.060 L1.823,0.592 L4.773,-1.551 L1.127,-1.551 Z" fill="#bcbd22" stroke="#bcbd22" stroke-width="1.673" stroke-linejoin="bevel"/>
<path transform="translate(380.90,208.30)" d="M0.000,-5.019 L-1.127,-1.551 L-4.773,-1.551 L-1.823,0.592 L-2.950,4.060 L-0.000,1.917 L2.950,4.060 L1.823,0.592 L4.773,-1.551 L1.127,-1.551 Z" fill="#bcbd22" stroke="#bcbd22" stroke-width="1.673" stroke-linejoin="bevel"/>
<path transform="translate(417.22,221.80)" d="M0.000,-5.019 L-1.127,-1.551 L-4.773,-1.551 L-1.823,0.592 L-2.950,4.060 L-0.000,1.917 L2.950,4.060 L1.823,0.592 L4.773,-1.551 L1.127,-1.551 Z" fill="#bcbd22" stroke="#bcbd22" stroke-width="1.673" stroke-linejoin="bevel"/>
<path transform="translate(453.53,232.10)" d="M0.000,-5.019 L-1.127,-1.551 L-4.773,-1.551 L-1.823,0.592 L-2.950,4.060 L-0.000,1.917 L2.950,4.060 L1.823,0.592 L4.773,-1.551 L1.127,-1.551 Z" fill="#bcbd22" stroke="#bcbd22" stroke-width="1.673" stroke-linejoin="bevel"/>
<path transform="translate(489.85,240.30)" d="M0.000,-5.019 L-1.127,-1.551 L-4.773,-1.551 L-1.823,0.592 L-2.950,4.060 L-0.000,1.917 L2.950,4.060 L1.823,0.592 L4.773,-1.551 L1.127,-1.551 Z" fill="#bcbd22" stroke="#bcbd22" stroke-width="1.673" stroke-linejoin="bevel"/>
<path transform="translate(526.16,246.60)" d="M0.000,-5.019 L-1.127,-1.551 L-4.773,-1.551 L-1.823,0.592 L-2.950,4.060 L-0.000,1.917 L2.950,4.060 L1.823,0.592 L4.773,-1.551 L1.127,-1.551 Z" fill="#bcbd22" stroke="#bcbd22" stroke-width="1.673" stroke-linejoin="bevel"/>
<path transform="translate(562.48,249.90)" d="M0.000,-5.019 L-1.127,-1.551 L-4.773,-1.551 L-1.823,0.592 L-2.950,4.060 L-0.000,1.917 L2.950,4.060 L1.823,0.592 L4.773,-1.551 L1.127,-1.551 Z" fill="#bcbd22" stroke="#bcbd22" stroke-width="1.673" stroke-linejoin="bevel"/>
<path transform="translate(598.79,250.80)" d="M0.000,-5.019 L-1.127,-1.551 L-4.773,-1.551 L-1.823,0.592 L-2.950,4.060 L-0.000,1.917 L2.950,4.060 L1.823,0.592 L4.773,-1.551 L1.127,-1.551 Z" fill="#bcbd22" stroke="#bcbd22" stroke-width="1.673" stroke-linejoin="bevel"/>
<path transform="translate(635.11,252.40)" d="M0.000,-5.019 L-1.127,-1.551 L-4.773,-1.551 L-1.823,0.592 L-2.950,4.060 L-0.000,1.917 L2.950,4.060 L1.823,0.592 L4.773,-1.551 L1.127,-1.551 Z" fill="#bcbd22" stroke="#bcbd22" stroke-width="1.673" stroke-linejoin="bevel"/>
<path transform="translate(671.42,250.00)" d="M0.000,-5.019 L-1.127,-1.551 L-4.773,-1.551 L-1.823,0.592 L-2.950,4.060 L-0.000,1.917 L2.950,4.060 L1.823,0.592 L4.773,-1.551 L1.127,-1.551 Z" fill="#bcbd22" stroke="#bcbd22" stroke-width="1.673" stroke-linejoin="bevel"/>
<path transform="translate(707.74,247.00)" d="M0.000,-5.019 L-1.127,-1.551 L-4.773,-1.551 L-1.823,0.592 L-2.950,4.060 L-0.000,1.917 L2.950,4.060 L1.823,0.592 L4.773,-1.551 L1.127,-1.551 Z" fill="#bcbd22" stroke="#bcbd22" stroke-width="1.673" stroke-linejoin="bevel"/>
<path transform="translate(744.06,241.40)" d="M0.000,-5.019 L-1.127,-1.551 L-4.773,-1.551 L-1.823,0.592 L-2.950,4.060 L-0.000,1.917 L2.950,4.060 L1.823,0.592 L4.773,-1.551 L1.127,-1.551 Z" fill="#bcbd22" stroke="#bcbd22" stroke-width="1.673" stroke-linejoin="bevel"/>
<path transform="translate(780.37,235.30)" d="M0.000,-5.019 L-1.127,-1.551 L-4.773,-1.551 L-1.823,0.592 L-2.950,4.060 L-0.000,1.917 L2.950,4.060 L1.823,0.592 L4.773,-1.551 L1.127,-1.551 Z" fill="#bcbd22" stroke="#bcbd22" stroke-width="1.673" stroke-linejoin="bevel"/>
<path transform="translate(816.68,228.40)" d="M0.000,-5.019 L-1.127,-1.551 L-4.773,-1.551 L-1.823,0.592 L-2.950,4.060 L-0.000,1.917 L2.950,4.060 L1.823,0.592 L4.773,-1.551 L1.127,-1.551 Z" fill="#bcbd22" stroke="#bcbd22" stroke-width="1.673" stroke-linejoin="bevel"/>
<path transform="translate(853.00,220.00)" d="M0.000,-5.019 L-1.127,-1.551 L-4.773,-1.551 L-1.823,0.592 L-2.950,4.060 L-0.000,1.917 L2.950,4.060 L1.823,0.592 L4.773,-1.551 L1.127,-1.551 Z" fill="#bcbd22" stroke="#bcbd22" stroke-width="1.673" stroke-linejoin="bevel"/>
<path transform="translate(889.32,208.00)" d="M0.000,-5.019 L-1.127,-1.551 L-4.773,-1.551 L-1.823,0.592 L-2.950,4.060 L-0.000,1.917 L2.950,4.060 L1.823,0.592 L4.773,-1.551 L1.127,-1.551 Z" fill="#bcbd22" stroke="#bcbd22" stroke-width="1.673" stroke-linejoin="bevel"/>
<path transform="translate(925.63,198.00)" d="M0.000,-5.019 L-1.127,-1.551 L-4.773,-1.551 L-1.823,0.592 L-2.950,4.060 L-0.000,1.917 L2.950,4.060 L1.823,0.592 L4.773,-1.551 L1.127,-1.551 Z" fill="#bcbd22" stroke="#bcbd22" stroke-width="1.673" stroke-linejoin="bevel"/>
</g>
<rect x="124.7" y="3.6" width="839.10" height="544.70" fill="none" stroke="#000" stroke-width="1.338" stroke-linejoin="miter" stroke-linecap="square"/>
<path d="M126.70,548.3 v5.86 M308.27,548.3 v5.86 M489.85,548.3 v5.86 M671.42,548.3 v5.86 M853.00,548.3 v5.86 M124.7,481.70 h-5.86 M124.7,374.01 h-5.86 M124.7,266.33 h-5.86 M124.7,158.64 h-5.86 M124.7,50.95 h-5.86" stroke="#000" stroke-width="1.338" fill="none"/>
<g fill="#000" stroke="#000" stroke-width="0.45"><text transform="translate(127.89,584.80) scale(0.995,1.000)" x="-8.90" font-size="32.00">0</text></g>
<g fill="#000" stroke="#000" stroke-width="0.45"><text transform="translate(308.12,584.80) scale(0.939,1.000)" x="-8.87" font-size="32.00">5</text></g>
<g fill="#000" stroke="#000" stroke-width="0.45"><text transform="translate(480.49,584.80) scale(0.950,1.000)" x="-9.34" font-size="32.00">1</text><text transform="translate(499.47,584.80) scale(0.995,1.000)" x="-8.90" font-size="32.00">0</text></g>
<g fill="#000" stroke="#000" stroke-width="0.45"><text transform="translate(662.07,584.80) scale(0.950,1.000)" x="-9.34" font-size="32.00">1</text><text transform="translate(680.89,584.80) scale(0.939,1.000)" x="-8.87" font-size="32.00">5</text></g>
<g fill="#000" stroke="#000" stroke-width="0.45"><text transform="translate(842.97,584.80) scale(0.959,1.000)" x="-8.90" font-size="32.00">2</text><text transform="translate(862.62,584.80) scale(0.995,1.000)" x="-8.90" font-size="32.00">0</text></g>
<g fill="#000" stroke="#000" stroke-width="0.45"><text transform="translate(51.58,493.65) scale(0.995,1.000)" x="-8.90" font-size="32.00">0</text><text transform="translate(66.01,493.65) scale(1.021,1.000)" x="-4.45" font-size="32.00">.</text><text transform="translate(78.42,493.65) scale(0.959,1.000)" x="-8.90" font-size="32.00">2</text><text transform="translate(98.07,493.65) scale(0.995,1.000)" x="-8.90" font-size="32.00">0</text></g>
<g fill="#000" stroke="#000" stroke-width="0.45"><text transform="translate(51.58,385.96) scale(0.995,1.000)" x="-8.90" font-size="32.00">0</text><text transform="translate(66.01,385.96) scale(1.021,1.000)" x="-4.45" font-size="32.00">.</text><text transform="translate(78.42,385.96) scale(0.959,1.000)" x="-8.90" font-size="32.00">2</text><text transform="translate(97.92,385.96) scale(0.939,1.000)" x="-8.87" font-size="32.00">5</text></g>
<g fill="#000" stroke="#000" stroke-width="0.45"><text transform="translate(51.58,278.28) scale(0.995,1.000)" x="-8.90" font-size="32.00">0</text><text transform="translate(66.01,278.28) scale(1.021,1.000)" x="-4.45" font-size="32.00">.</text><text transform="translate(80.39,278.28) scale(0.955,1.000)" x="-8.80" font-size="32.00">3</text><text transform="translate(99.69,278.28) scale(0.995,1.000)" x="-8.90" font-size="32.00">0</text></g>
<g fill="#000" stroke="#000" stroke-width="0.45"><text transform="translate(51.58,170.59) scale(0.995,1.000)" x="-8.90" font-size="32.00">0</text><text transform="translate(66.01,170.59) scale(1.021,1.000)" x="-4.45" font-size="32.00">.</text><text transform="translate(80.39,170.59) scale(0.955,1.000)" x="-8.80" font-size="32.00">3</text><text transform="translate(99.54,170.59) scale(0.939,1.000)" x="-8.87" font-size="32.00">5</text></g>
<g fill="#000" stroke="#000" stroke-width="0.45"><text transform="translate(51.58,62.90) scale(0.995,1.000)" x="-8.90" font-size="32.00">0</text><text transform="translate(66.01,62.90) scale(1.021,1.000)" x="-4.45" font-size="32.00">.</text><text transform="translate(80.34,62.90) scale(0.995,1.000)" x="-8.80" font-size="32.00">4</text><text transform="translate(99.69,62.90) scale(0.995,1.000)" x="-8.90" font-size="32.00">0</text></g>
<g fill="#000" stroke="#000" stroke-width="0.45"><text transform="translate(400.90,621.60) scale(0.932,1.000)" x="-11.52" font-size="31.89">N</text><text transform="translate(421.63,621.60) scale(1.018,1.000)" x="-8.85" font-size="31.89">u</text><text transform="translate(446.02,621.60) scale(1.075,1.000)" x="-13.29" font-size="31.89">m</text><text transform="translate(470.72,621.60) scale(1.027,1.000)" x="-9.23" font-size="31.89">b</text><text transform="translate(489.03,621.60) scale(1.019,1.000)" x="-8.84" font-size="31.89">e</text><text transform="translate(505.83,621.60) scale(1.209,1.000)" x="-6.10" font-size="31.89">r</text><text transform="translate(529.45,621.60) scale(1.003,1.000)" x="-8.87" font-size="31.89">o</text><text transform="translate(544.60,621.60) scale(1.239,1.000)" x="-4.68" font-size="31.89">f</text><text transform="translate(563.29,621.60) scale(0.998,1.000)" x="-4.43" font-size="31.89">I</text><text transform="translate(573.68,621.60) scale(1.261,1.000)" x="-4.56" font-size="31.89">t</text><text transform="translate(588.83,621.60) scale(1.019,1.000)" x="-8.84" font-size="31.89">e</text><text transform="translate(605.63,621.60) scale(1.209,1.000)" x="-6.10" font-size="31.89">r</text><text transform="translate(619.22,621.60) scale(0.849,1.000)" x="-9.55" font-size="31.89">a</text><text transform="translate(634.87,621.60) scale(1.261,1.000)" x="-4.56" font-size="31.89">t</text><text transform="translate(644.93,621.60) scale(0.965,1.000)" x="-3.54" font-size="31.89">i</text><text transform="translate(658.32,621.60) scale(1.003,1.000)" x="-8.87" font-size="31.89">o</text><text transform="translate(677.16,621.60) scale(1.018,1.000)" x="-8.89" font-size="31.89">n</text><text transform="translate(694.55,621.60) scale(0.905,1.000)" x="-7.84" font-size="31.89">s</text></g>
<g fill="#000" stroke="#000" stroke-width="0.45"><text transform="translate(26.10,298.73) rotate(-90) scale(0.941,1.000)" x="-13.33" font-size="32.00">M</text><text transform="translate(26.10,275.92) rotate(-90) scale(0.841,1.000)" x="-10.66" font-size="32.00">S</text><text transform="translate(26.10,256.41) rotate(-90) scale(0.818,1.000)" x="-11.30" font-size="32.00">E</text></g>
<rect x="551.9" y="15.9" width="399.20" height="336.30" rx="5" ry="5" fill="#fff" fill-opacity="0.8" stroke="#ccc" stroke-opacity="0.8" stroke-width="1.673"/>
<path d="M561.90,36.30 L612.00,36.30" fill="none" stroke="#1f77b4" stroke-width="2.510" stroke-linecap="square" stroke-linejoin="round"/>
<path transform="translate(586.95,36.30)" d="M0.000,5.019 L-5.019,-5.019 L5.019,-5.019 Z" fill="#1f77b4" stroke="#1f77b4" stroke-width="1.673" stroke-linejoin="miter"/>
<g fill="#000" stroke="#000" stroke-width="0.45"><text transform="translate(640.15,44.94) scale(0.809,1.000)" x="-8.66" font-size="26.54">F</text><text transform="translate(654.55,44.94) scale(1.019,1.000)" x="-7.36" font-size="26.54">e</text><text transform="translate(669.71,44.94) scale(1.026,1.000)" x="-7.08" font-size="26.54">d</text><text transform="translate(686.63,44.94) scale(0.958,1.000)" x="-8.85" font-size="26.54">V</text><text transform="translate(703.94,44.94) scale(0.876,1.000)" x="-9.75" font-size="26.54">C</text><text transform="translate(720.98,44.94) scale(0.835,1.000)" x="-9.24" font-size="26.54">P</text><text transform="translate(731.43,44.94) scale(1.350,1.000)" x="-3.69" font-size="26.54">,</text><text transform="translate(751.13,44.94) scale(1.014,1.000)" x="-7.00" font-size="26.54" font-style="italic">n</text><text transform="translate(774.81,44.32) scale(1.216,0.826)" x="-7.74" font-size="26.54">=</text><text transform="translate(798.32,44.94) scale(0.950,1.000)" x="-7.74" font-size="26.54">1</text><text transform="translate(814.00,44.94) scale(0.995,1.000)" x="-7.38" font-size="26.54">0</text><text transform="translate(829.91,44.94) scale(0.995,1.000)" x="-7.38" font-size="26.54">0</text><text transform="translate(845.81,44.94) scale(0.995,1.000)" x="-7.38" font-size="26.54">0</text></g>
<path d="M561.90,72.80 L612.00,72.80" fill="none" stroke="#ff7f0e" stroke-width="2.510" stroke-linecap="butt" stroke-linejoin="round" stroke-dasharray="9.285 4.015"/>
<path transform="translate(586.95,72.80)" d="M5.019,0.000 L-5.019,5.019 L-5.019,-5.019 Z" fill="#ff7f0e" stroke="#ff7f0e" stroke-width="1.673" stroke-linejoin="miter"/>
<g fill="#000" stroke="#000" stroke-width="0.45"><text transform="translate(640.15,82.14) scale(0.809,1.000)" x="-8.66" font-size="26.54">F</text><text transform="translate(654.55,82.14) scale(1.019,1.000)" x="-7.36" font-size="26.54">e</text><text transform="translate(669.71,82.14) scale(1.026,1.000)" x="-7.08" font-size="26.54">d</text><text transform="translate(686.63,82.14) scale(0.958,1.000)" x="-8.85" font-size="26.54">V</text><text transform="translate(703.94,82.14) scale(0.876,1.000)" x="-9.75" font-size="26.54">C</text><text transform="translate(720.98,82.14) scale(0.835,1.000)" x="-9.24" font-size="26.54">P</text><text transform="translate(731.43,82.14) scale(1.350,1.000)" x="-3.69" font-size="26.54">,</text><text transform="translate(751.13,82.14) scale(1.014,1.000)" x="-7.00" font-size="26.54" font-style="italic">n</text><text transform="translate(774.81,81.52) scale(1.216,0.826)" x="-7.74" font-size="26.54">=</text><text transform="translate(797.97,82.14) scale(0.939,1.000)" x="-7.36" font-size="26.54">5</text><text transform="translate(814.00,82.14) scale(0.995,1.000)" x="-7.38" font-size="26.54">0</text><text transform="translate(829.91,82.14) scale(0.995,1.000)" x="-7.38" font-size="26.54">0</text><text transform="translate(845.81,82.14) scale(0.995,1.000)" x="-7.38" font-size="26.54">0</text></g>
<path d="M561.90,109.30 L612.00,109.30" fill="none" stroke="#2ca02c" stroke-width="2.510" stroke-linecap="butt" stroke-linejoin="round" stroke-dasharray="2.510 4.141"/>
<path transform="translate(586.95,109.30)" d="M0.000,-5.019 L-1.127,-1.551 L-4.773,-1.551 L-1.823,0.592 L-2.950,4.060 L-0.000,1.917 L2.950,4.060 L1.823,0.592 L4.773,-1.551 L1.127,-1.551 Z" fill="#2ca02c" stroke="#2ca02c" stroke-width="1.673" stroke-linejoin="bevel"/>
<g fill="#000" stroke="#000" stroke-width="0.45"><text transform="translate(640.15,118.64) scale(0.809,1.000)" x="-8.66" font-size="26.54">F</text><text transform="translate(654.55,118.64) scale(1.019,1.000)" x="-7.36" font-size="26.54">e</text><text transform="translate(669.71,118.64) scale(1.026,1.000)" x="-7.08" font-size="26.54">d</text><text transform="translate(686.63,118.64) scale(0.958,1.000)" x="-8.85" font-size="26.54">V</text><text transform="translate(703.94,118.64) scale(0.876,1.000)" x="-9.75" font-size="26.54">C</text><text transform="translate(720.98,118.64) scale(0.835,1.000)" x="-9.24" font-size="26.54">P</text><text transform="translate(731.43,118.64) scale(1.350,1.000)" x="-3.69" font-size="26.54">,</text><text transform="translate(751.13,118.64) scale(1.014,1.000)" x="-7.00" font-size="26.54" font-style="italic">n</text><text transform="translate(774.81,118.02) scale(1.216,0.826)" x="-7.74" font-size="26.54">=</text><text transform="translate(797.76,118.64) scale(0.959,1.000)" x="-7.38" font-size="26.54">2</text><text transform="translate(814.00,118.64) scale(0.995,1.000)" x="-7.38" font-size="26.54">0</text><text transform="translate(829.91,118.64) scale(0.995,1.000)" x="-7.38" font-size="26.54">0</text><text transform="translate(845.81,118.64) scale(0.995,1.000)" x="-7.38" font-size="26.54">0</text><text transform="translate(861.72,118.64) scale(0.995,1.000)" x="-7.38" font-size="26.54">0</text></g>
<path d="M561.90,145.80 L612.00,145.80" fill="none" stroke="#d62728" stroke-width="2.510" stroke-linecap="square" stroke-linejoin="round"/>
<path transform="translate(586.95,145.80)" d="M0.000,5.019 L-5.019,-5.019 L5.019,-5.019 Z" fill="#d62728" stroke="#d62728" stroke-width="1.673" stroke-linejoin="miter"/>
<g fill="#000" stroke="#000" stroke-width="0.45"><text transform="translate(640.15,155.14) scale(0.809,1.000)" x="-8.66" font-size="26.54">F</text><text transform="translate(654.55,155.14) scale(1.019,1.000)" x="-7.36" font-size="26.54">e</text><text transform="translate(669.71,155.14) scale(1.026,1.000)" x="-7.08" font-size="26.54">d</text><text transform="translate(682.59,155.14) scale(1.017,1.000)" x="-4.42" font-size="26.54">-</text><text transform="translate(698.87,155.14) scale(1.075,1.000)" x="-11.06" font-size="26.54">m</text><text transform="translate(718.36,155.14) scale(1.018,1.000)" x="-6.64" font-size="26.54">v</text><text transform="translate(730.26,155.14) scale(1.017,1.000)" x="-4.42" font-size="26.54">-</text><text transform="translate(743.12,155.14) scale(0.835,1.000)" x="-9.24" font-size="26.54">P</text><text transform="translate(758.19,155.14) scale(0.835,1.000)" x="-9.24" font-size="26.54">P</text><text transform="translate(773.68,155.14) scale(0.876,1.000)" x="-9.75" font-size="26.54">C</text><text transform="translate(790.93,155.14) scale(0.951,1.000)" x="-8.85" font-size="26.54">A</text><text transform="translate(803.20,155.14) scale(1.350,1.000)" x="-3.69" font-size="26.54">,</text><text transform="translate(822.89,155.14) scale(1.014,1.000)" x="-7.00" font-size="26.54" font-style="italic">n</text><text transform="translate(846.57,154.52) scale(1.216,0.826)" x="-7.74" font-size="26.54">=</text><text transform="translate(870.09,155.14) scale(0.950,1.000)" x="-7.74" font-size="26.54">1</text><text transform="translate(885.77,155.14) scale(0.995,1.000)" x="-7.38" font-size="26.54">0</text><text transform="translate(901.67,155.14) scale(0.995,1.000)" x="-7.38" font-size="26.54">0</text><text transform="translate(917.58,155.14) scale(0.995,1.000)" x="-7.38" font-size="26.54">0</text></g>
<path d="M561.90,182.30 L612.00,182.30" fill="none" stroke="#9467bd" stroke-width="2.510" stroke-linecap="butt" stroke-linejoin="round" stroke-dasharray="9.285 4.015"/>
<path transform="translate(586.95,182.30)" d="M5.019,0.000 L-5.019,5.019 L-5.019,-5.019 Z" fill="#9467bd" stroke="#9467bd" stroke-width="1.673" stroke-linejoin="miter"/>
<g fill="#000" stroke="#000" stroke-width="0.45"><text transform="translate(640.15,191.64) scale(0.809,1.000)" x="-8.66" font-size="26.54">F</text><text transform="translate(654.55,191.64) scale(1.019,1.000)" x="-7.36" font-size="26.54">e</text><text transform="translate(669.71,191.64) scale(1.026,1.000)" x="-7.08" font-size="26.54">d</text><text transform="translate(682.59,191.64) scale(1.017,1.000)" x="-4.42" font-size="26.54">-</text><text transform="translate(698.87,191.64) scale(1.075,1.000)" x="-11.06" font-size="26.54">m</text><text transform="translate(718.36,191.64) scale(1.018,1.000)" x="-6.64" font-size="26.54">v</text><text transform="translate(730.26,191.64) scale(1.017,1.000)" x="-4.42" font-size="26.54">-</text><text transform="translate(743.12,191.64) scale(0.835,1.000)" x="-9.24" font-size="26.54">P</text><text transform="translate(758.19,191.64) scale(0.835,1.000)" x="-9.24" font-size="26.54">P</text><text transform="translate(773.68,191.64) scale(0.876,1.000)" x="-9.75" font-size="26.54">C</text><text transform="translate(790.93,191.64) scale(0.951,1.000)" x="-8.85" font-size="26.54">A</text><text transform="translate(803.20,191.64) scale(1.350,1.000)" x="-3.69" font-size="26.54">,</text><text transform="translate(822.89,191.64) scale(1.014,1.000)" x="-7.00" font-size="26.54" font-style="italic">n</text><text transform="translate(846.57,191.02) scale(1.216,0.826)" x="-7.74" font-size="26.54">=</text><text transform="translate(869.74,191.64) scale(0.939,1.000)" x="-7.36" font-size="26.54">5</text><text transform="translate(885.77,191.64) scale(0.995,1.000)" x="-7.38" font-size="26.54">0</text><text transform="translate(901.67,191.64) scale(0.995,1.000)" x="-7.38" font-size="26.54">0</text><text transform="translate(917.58,191.64) scale(0.995,1.000)" x="-7.38" font-size="26.54">0</text></g>
<path d="M561.90,218.80 L612.00,218.80" fill="none" stroke="#8c564b" stroke-width="2.510" stroke-linecap="butt" stroke-linejoin="round" stroke-dasharray="2.510 4.141"/>
<path transform="translate(586.95,218.80)" d="M0.000,-5.019 L-1.127,-1.551 L-4.773,-1.551 L-1.823,0.592 L-2.950,4.060 L-0.000,1.917 L2.950,4.060 L1.823,0.592 L4.773,-1.551 L1.127,-1.551 Z" fill="#8c564b" stroke="#8c564b" stroke-width="1.673" stroke-linejoin="bevel"/>
<g fill="#000" stroke="#000" stroke-width="0.45"><text transform="translate(640.15,228.14) scale(0.809,1.000)" x="-8.66" font-size="26.54">F</text><text transform="translate(654.55,228.14) scale(1.019,1.000)" x="-7.36" font-size="26.54">e</text><text transform="translate(669.71,228.14) scale(1.026,1.000)" x="-7.08" font-size="26.54">d</text><text transform="translate(682.59,228.14) scale(1.017,1.000)" x="-4.42" font-size="26.54">-</text><text transform="translate(698.87,228.14) scale(1.075,1.000)" x="-11.06" font-size="26.54">m</text><text transform="translate(718.36,228.14) scale(1.018,1.000)" x="-6.64" font-size="26.54">v</text><text transform="translate(730.26,228.14) scale(1.017,1.000)" x="-4.42" font-size="26.54">-</text><text transform="translate(743.12,228.14) scale(0.835,1.000)" x="-9.24" font-size="26.54">P</text><text transform="translate(758.19,228.14) scale(0.835,1.000)" x="-9.24" font-size="26.54">P</text><text transform="translate(773.68,228.14) scale(0.876,1.000)" x="-9.75" font-size="26.54">C</text><text transform="translate(790.93,228.14) scale(0.951,1.000)" x="-8.85" font-size="26.54">A</text><text transform="translate(803.20,228.14) scale(1.350,1.000)" x="-3.69" font-size="26.54">,</text><text transform="translate(822.89,228.14) scale(1.014,1.000)" x="-7.00" font-size="26.54" font-style="italic">n</text><text transform="translate(846.57,227.52) scale(1.216,0.826)" x="-7.74" font-size="26.54">=</text><text transform="translate(869.53,228.14) scale(0.959,1.000)" x="-7.38" font-size="26.54">2</text><text transform="translate(885.77,228.14) scale(0.995,1.000)" x="-7.38" font-size="26.54">0</text><text transform="translate(901.67,228.14) scale(0.995,1.000)" x="-7.38" font-size="26.54">0</text><text transform="translate(917.58,228.14) scale(0.995,1.000)" x="-7.38" font-size="26.54">0</text><text transform="translate(933.48,228.14) scale(0.995,1.000)" x="-7.38" font-size="26.54">0</text></g>
<path d="M561.90,255.30 L612.00,255.30" fill="none" stroke="#e377c2" stroke-width="2.510" stroke-linecap="square" stroke-linejoin="round"/>
<path transform="translate(586.95,255.30)" d="M0.000,5.019 L-5.019,-5.019 L5.019,-5.019 Z" fill="#e377c2" stroke="#e377c2" stroke-width="1.673" stroke-linejoin="miter"/>
<g fill="#000" stroke="#000" stroke-width="0.45"><text transform="translate(642.58,264.64) scale(0.976,1.000)" x="-10.04" font-size="26.54">D</text><text transform="translate(659.40,264.64) scale(0.809,1.000)" x="-8.66" font-size="26.54">F</text><text transform="translate(678.35,264.64) scale(1.075,1.000)" x="-11.06" font-size="26.54">m</text><text transform="translate(698.78,264.64) scale(0.835,1.000)" x="-9.24" font-size="26.54">P</text><text transform="translate(710.02,264.64) scale(1.017,1.000)" x="-4.42" font-size="26.54">-</text><text transform="translate(722.60,264.64) scale(0.841,1.000)" x="-8.85" font-size="26.54">S</text><text transform="translate(739.76,264.64) scale(0.932,1.000)" x="-9.59" font-size="26.54">N</text><text transform="translate(752.82,264.64) scale(1.350,1.000)" x="-3.69" font-size="26.54">,</text><text transform="translate(772.51,264.64) scale(1.014,1.000)" x="-7.00" font-size="26.54" font-style="italic">n</text><text transform="translate(796.20,264.02) scale(1.216,0.826)" x="-7.74" font-size="26.54">=</text><text transform="translate(819.71,264.64) scale(0.950,1.000)" x="-7.74" font-size="26.54">1</text><text transform="translate(835.39,264.64) scale(0.995,1.000)" x="-7.38" font-size="26.54">0</text><text transform="translate(851.29,264.64) scale(0.995,1.000)" x="-7.38" font-size="26.54">0</text><text transform="translate(867.20,264.64) scale(0.995,1.000)" x="-7.38" font-size="26.54">0</text></g>
<path d="M561.90,291.80 L612.00,291.80" fill="none" stroke="#7f7f7f" stroke-width="2.510" stroke-linecap="butt" stroke-linejoin="round" stroke-dasharray="9.285 4.015"/>
<path transform="translate(586.95,291.80)" d="M5.019,0.000 L-5.019,5.019 L-5.019,-5.019 Z" fill="#7f7f7f" stroke="#7f7f7f" stroke-width="1.673" stroke-linejoin="miter"/>
<g fill="#000" stroke="#000" stroke-width="0.45"><text transform="translate(642.58,301.14) scale(0.976,1.000)" x="-10.04" font-size="26.54">D</text><text transform="translate(659.40,301.14) scale(0.809,1.000)" x="-8.66" font-size="26.54">F</text><text transform="translate(678.35,301.14) scale(1.075,1.000)" x="-11.06" font-size="26.54">m</text><text transform="translate(698.78,301.14) scale(0.835,1.000)" x="-9.24" font-size="26.54">P</text><text transform="translate(710.02,301.14) scale(1.017,1.000)" x="-4.42" font-size="26.54">-</text><text transform="translate(722.60,301.14) scale(0.841,1.000)" x="-8.85" font-size="26.54">S</text><text transform="translate(739.76,301.14) scale(0.932,1.000)" x="-9.59" font-size="26.54">N</text><text transform="translate(752.82,301.14) scale(1.350,1.000)" x="-3.69" font-size="26.54">,</text><text transform="translate(772.51,301.14) scale(1.014,1.000)" x="-7.00" font-size="26.54" font-style="italic">n</text><text transform="translate(796.20,300.52) scale(1.216,0.826)" x="-7.74" font-size="26.54">=</text><text transform="translate(819.36,301.14) scale(0.939,1.000)" x="-7.36" font-size="26.54">5</text><text transform="translate(835.39,301.14) scale(0.995,1.000)" x="-7.38" font-size="26.54">0</text><text transform="translate(851.29,301.14) scale(0.995,1.000)" x="-7.38" font-size="26.54">0</text><text transform="translate(867.20,301.14) scale(0.995,1.000)" x="-7.38" font-size="26.54">0</text></g>
<path d="M561.90,328.30 L612.00,328.30" fill="none" stroke="#bcbd22" stroke-width="2.510" stroke-linecap="butt" stroke-linejoin="round" stroke-dasharray="2.510 4.141"/>
<path transform="translate(586.95,328.30)" d="M0.000,-5.019 L-1.127,-1.551 L-4.773,-1.551 L-1.823,0.592 L-2.950,4.060 L-0.000,1.917 L2.950,4.060 L1.823,0.592 L4.773,-1.551 L1.127,-1.551 Z" fill="#bcbd22" stroke="#bcbd22" stroke-width="1.673" stroke-linejoin="bevel"/>
<g fill="#000" stroke="#000" stroke-width="0.45"><text transform="translate(642.58,337.64) scale(0.976,1.000)" x="-10.04" font-size="26.54">D</text><text transform="translate(659.40,337.64) scale(0.809,1.000)" x="-8.66" font-size="26.54">F</text><text transform="translate(678.35,337.64) scale(1.075,1.000)" x="-11.06" font-size="26.54">m</text><text transform="translate(698.78,337.64) scale(0.835,1.000)" x="-9.24" font-size="26.54">P</text><text transform="translate(710.02,337.64) scale(1.017,1.000)" x="-4.42" font-size="26.54">-</text><text transform="translate(722.60,337.64) scale(0.841,1.000)" x="-8.85" font-size="26.54">S</text><text transform="translate(739.76,337.64) scale(0.932,1.000)" x="-9.59" font-size="26.54">N</text><text transform="translate(752.82,337.64) scale(1.350,1.000)" x="-3.69" font-size="26.54">,</text><text transform="translate(772.51,337.64) scale(1.014,1.000)" x="-7.00" font-size="26.54" font-style="italic">n</text><text transform="translate(796.20,337.02) scale(1.216,0.826)" x="-7.74" font-size="26.54">=</text><text transform="translate(819.15,337.64) scale(0.959,1.000)" x="-7.38" font-size="26.54">2</text><text transform="translate(835.39,337.64) scale(0.995,1.000)" x="-7.38" font-size="26.54">0</text><text transform="translate(851.29,337.64) scale(0.995,1.000)" x="-7.38" font-size="26.54">0</text><text transform="translate(867.20,337.64) scale(0.995,1.000)" x="-7.38" font-size="26.54">0</text><text transform="translate(883.10,337.64) scale(0.995,1.000)" x="-7.38" font-size="26.54">0</text></g>
<defs><clipPath id="ax"><rect x="124.7" y="3.6" width="839.10" height="544.70"/></clipPath></defs>
</svg>
</body></html>
